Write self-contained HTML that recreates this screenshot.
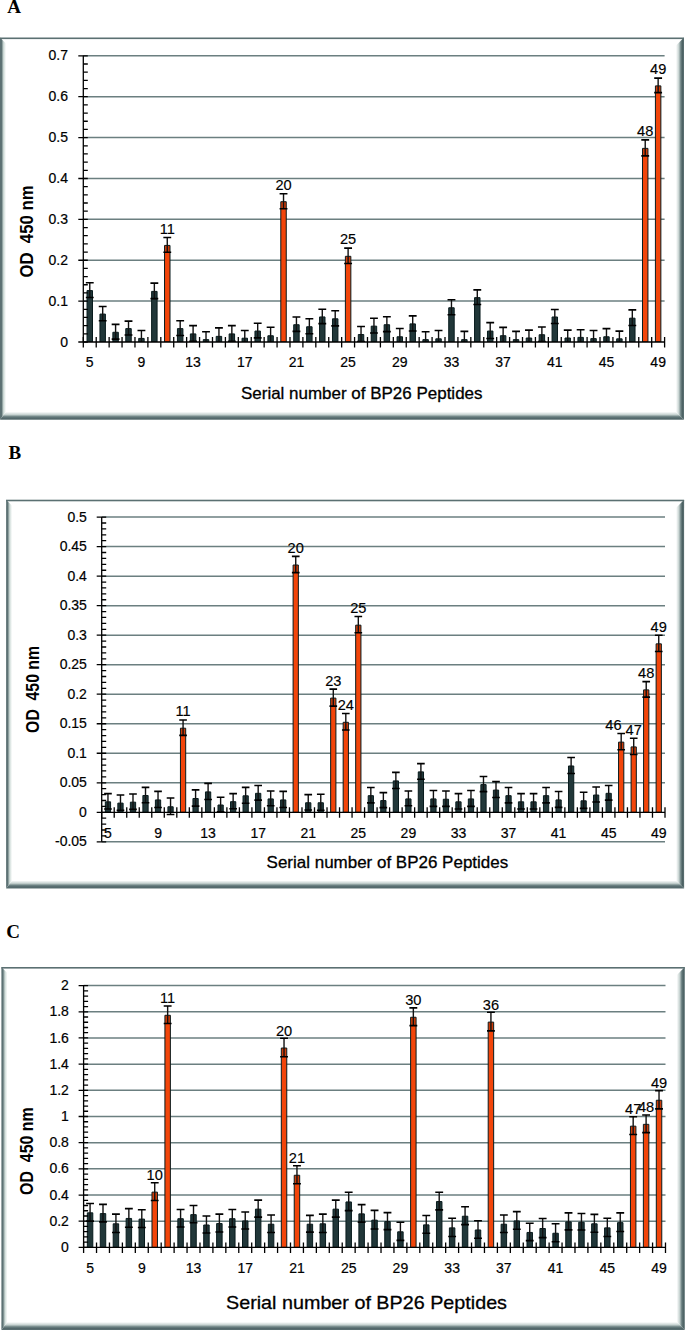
<!DOCTYPE html>
<html><head><meta charset="utf-8"><title>BP26 peptides</title>
<style>html,body{margin:0;padding:0;background:#fff;}svg{display:block;}</style>
</head><body>
<svg width="685" height="1330" viewBox="0 0 685 1330" font-family="'Liberation Sans', sans-serif" stroke-linejoin="round">
<rect width="685" height="1330" fill="#fff"/>

<defs><linearGradient id="gl0" gradientUnits="userSpaceOnUse" x1="0" x2="6" y1="0" y2="0"><stop offset="0" stop-color="#5b7072"/><stop offset="0.25" stop-color="#5e7375"/><stop offset="0.6" stop-color="#cfdcd8"/><stop offset="1" stop-color="#ffffff"/></linearGradient><linearGradient id="gr0" gradientUnits="userSpaceOnUse" x1="676" x2="684" y1="0" y2="0"><stop offset="0" stop-color="#ffffff"/><stop offset="0.35" stop-color="#c7d3d1"/><stop offset="0.6" stop-color="#6e8384"/><stop offset="0.8" stop-color="#4c6163"/><stop offset="1" stop-color="#5b7072"/></linearGradient><linearGradient id="gb0" gradientUnits="userSpaceOnUse" x1="0" x2="0" y1="411.8" y2="419.8"><stop offset="0" stop-color="#ffffff"/><stop offset="0.35" stop-color="#c7d3d1"/><stop offset="0.6" stop-color="#6e8384"/><stop offset="0.8" stop-color="#52676a"/><stop offset="1" stop-color="#5b7072"/></linearGradient><linearGradient id="gl1" gradientUnits="userSpaceOnUse" x1="6.1" x2="12.1" y1="0" y2="0"><stop offset="0" stop-color="#5b7072"/><stop offset="0.25" stop-color="#5e7375"/><stop offset="0.6" stop-color="#cfdcd8"/><stop offset="1" stop-color="#ffffff"/></linearGradient><linearGradient id="gr1" gradientUnits="userSpaceOnUse" x1="676.1" x2="684.1" y1="0" y2="0"><stop offset="0" stop-color="#ffffff"/><stop offset="0.35" stop-color="#c7d3d1"/><stop offset="0.6" stop-color="#6e8384"/><stop offset="0.8" stop-color="#4c6163"/><stop offset="1" stop-color="#5b7072"/></linearGradient><linearGradient id="gb1" gradientUnits="userSpaceOnUse" x1="0" x2="0" y1="880.5" y2="888.5"><stop offset="0" stop-color="#ffffff"/><stop offset="0.35" stop-color="#c7d3d1"/><stop offset="0.6" stop-color="#6e8384"/><stop offset="0.8" stop-color="#52676a"/><stop offset="1" stop-color="#5b7072"/></linearGradient><linearGradient id="gl2" gradientUnits="userSpaceOnUse" x1="1.4" x2="7.4" y1="0" y2="0"><stop offset="0" stop-color="#5b7072"/><stop offset="0.25" stop-color="#5e7375"/><stop offset="0.6" stop-color="#cfdcd8"/><stop offset="1" stop-color="#ffffff"/></linearGradient><linearGradient id="gr2" gradientUnits="userSpaceOnUse" x1="676.8" x2="684.8" y1="0" y2="0"><stop offset="0" stop-color="#ffffff"/><stop offset="0.35" stop-color="#c7d3d1"/><stop offset="0.6" stop-color="#6e8384"/><stop offset="0.8" stop-color="#4c6163"/><stop offset="1" stop-color="#5b7072"/></linearGradient><linearGradient id="gb2" gradientUnits="userSpaceOnUse" x1="0" x2="0" y1="1322" y2="1330"><stop offset="0" stop-color="#ffffff"/><stop offset="0.35" stop-color="#c7d3d1"/><stop offset="0.6" stop-color="#6e8384"/><stop offset="0.8" stop-color="#52676a"/><stop offset="1" stop-color="#5b7072"/></linearGradient></defs>
<polygon points="0,37.5 6,43.5 6,411.8 0,419.8" fill="url(#gl0)"/>
<polygon points="0,419.8 6,411.8 676,411.8 684,419.8" fill="url(#gb0)"/>
<polygon points="684,37.5 684,419.8 676,411.8 676,45.5" fill="url(#gr0)"/>
<rect x="0" y="37.5" width="684" height="1.6" fill="#5b7072"/>
<line x1="83.3" x2="664.6" y1="301.12" y2="301.12" stroke="#6b7f80" stroke-width="1.5"/>
<line x1="83.3" x2="664.6" y1="260.24" y2="260.24" stroke="#6b7f80" stroke-width="1.5"/>
<line x1="83.3" x2="664.6" y1="219.36" y2="219.36" stroke="#6b7f80" stroke-width="1.5"/>
<line x1="83.3" x2="664.6" y1="178.48" y2="178.48" stroke="#6b7f80" stroke-width="1.5"/>
<line x1="83.3" x2="664.6" y1="137.6" y2="137.6" stroke="#6b7f80" stroke-width="1.5"/>
<line x1="83.3" x2="664.6" y1="96.72" y2="96.72" stroke="#6b7f80" stroke-width="1.5"/>
<line x1="83.3" x2="664.6" y1="55.84" y2="55.84" stroke="#6b7f80" stroke-width="1.5"/>
<clipPath id="clip140408049874496"><rect x="83.3" y="25.84" width="581.3" height="316.16"/></clipPath>
<g clip-path="url(#clip140408049874496)"><rect x="87.03" y="290.58" width="5.46" height="51.42" fill="#213739" stroke="#081b1d" stroke-width="1"/><rect x="99.95" y="314.09" width="5.46" height="27.91" fill="#213739" stroke="#081b1d" stroke-width="1"/><rect x="112.87" y="332.28" width="5.46" height="9.72" fill="#213739" stroke="#081b1d" stroke-width="1"/><rect x="125.78" y="328.6" width="5.46" height="13.4" fill="#213739" stroke="#081b1d" stroke-width="1"/><rect x="138.7" y="338.41" width="5.46" height="3.59" fill="#213739" stroke="#081b1d" stroke-width="1"/><rect x="151.62" y="291.4" width="5.46" height="50.6" fill="#213739" stroke="#081b1d" stroke-width="1"/><rect x="164.54" y="245.41" width="5.46" height="96.59" fill="#f2450a" stroke="#081b1d" stroke-width="1"/><rect x="165.04" y="245.91" width="4.46" height="6.4" fill="#000" fill-opacity="0.14"/><rect x="177.45" y="328.6" width="5.46" height="13.4" fill="#213739" stroke="#081b1d" stroke-width="1"/><rect x="190.37" y="333.92" width="5.46" height="8.08" fill="#213739" stroke="#081b1d" stroke-width="1"/><rect x="203.29" y="339.64" width="5.46" height="2.36" fill="#213739" stroke="#081b1d" stroke-width="1"/><rect x="216.21" y="336.37" width="5.46" height="5.63" fill="#213739" stroke="#081b1d" stroke-width="1"/><rect x="229.13" y="333.92" width="5.46" height="8.08" fill="#213739" stroke="#081b1d" stroke-width="1"/><rect x="242.04" y="338.21" width="5.46" height="3.79" fill="#213739" stroke="#081b1d" stroke-width="1"/><rect x="254.96" y="331.05" width="5.46" height="10.95" fill="#213739" stroke="#081b1d" stroke-width="1"/><rect x="267.88" y="335.75" width="5.46" height="6.25" fill="#213739" stroke="#081b1d" stroke-width="1"/><rect x="280.8" y="201.71" width="5.46" height="140.29" fill="#f2450a" stroke="#081b1d" stroke-width="1"/><rect x="281.3" y="202.21" width="4.46" height="6.52" fill="#000" fill-opacity="0.14"/><rect x="293.71" y="324.72" width="5.46" height="17.28" fill="#213739" stroke="#081b1d" stroke-width="1"/><rect x="306.63" y="326.76" width="5.46" height="15.24" fill="#213739" stroke="#081b1d" stroke-width="1"/><rect x="319.55" y="316.95" width="5.46" height="25.05" fill="#213739" stroke="#081b1d" stroke-width="1"/><rect x="332.47" y="318.79" width="5.46" height="23.21" fill="#213739" stroke="#081b1d" stroke-width="1"/><rect x="345.39" y="256.32" width="5.46" height="85.68" fill="#f2450a" stroke="#081b1d" stroke-width="1"/><rect x="345.89" y="256.82" width="4.46" height="6.69" fill="#000" fill-opacity="0.14"/><rect x="358.3" y="334.53" width="5.46" height="7.47" fill="#213739" stroke="#081b1d" stroke-width="1"/><rect x="371.22" y="326.15" width="5.46" height="15.85" fill="#213739" stroke="#081b1d" stroke-width="1"/><rect x="384.14" y="324.72" width="5.46" height="17.28" fill="#213739" stroke="#081b1d" stroke-width="1"/><rect x="397.06" y="336.78" width="5.46" height="5.22" fill="#213739" stroke="#081b1d" stroke-width="1"/><rect x="409.97" y="323.9" width="5.46" height="18.1" fill="#213739" stroke="#081b1d" stroke-width="1"/><rect x="422.89" y="339.64" width="5.46" height="2.36" fill="#213739" stroke="#081b1d" stroke-width="1"/><rect x="435.81" y="338.82" width="5.46" height="3.18" fill="#213739" stroke="#081b1d" stroke-width="1"/><rect x="448.73" y="307.75" width="5.46" height="34.25" fill="#213739" stroke="#081b1d" stroke-width="1"/><rect x="461.65" y="339.64" width="5.46" height="2.36" fill="#213739" stroke="#081b1d" stroke-width="1"/><rect x="474.56" y="297.65" width="5.46" height="44.35" fill="#213739" stroke="#081b1d" stroke-width="1"/><rect x="487.48" y="331.05" width="5.46" height="10.95" fill="#213739" stroke="#081b1d" stroke-width="1"/><rect x="500.4" y="335.71" width="5.46" height="6.29" fill="#213739" stroke="#081b1d" stroke-width="1"/><rect x="513.32" y="339.64" width="5.46" height="2.36" fill="#213739" stroke="#081b1d" stroke-width="1"/><rect x="526.23" y="338" width="5.46" height="4" fill="#213739" stroke="#081b1d" stroke-width="1"/><rect x="539.15" y="334.73" width="5.46" height="7.27" fill="#213739" stroke="#081b1d" stroke-width="1"/><rect x="552.07" y="316.99" width="5.46" height="25.01" fill="#213739" stroke="#081b1d" stroke-width="1"/><rect x="564.99" y="338" width="5.46" height="4" fill="#213739" stroke="#081b1d" stroke-width="1"/><rect x="577.91" y="337.39" width="5.46" height="4.61" fill="#213739" stroke="#081b1d" stroke-width="1"/><rect x="590.82" y="338.62" width="5.46" height="3.38" fill="#213739" stroke="#081b1d" stroke-width="1"/><rect x="603.74" y="336.78" width="5.46" height="5.22" fill="#213739" stroke="#081b1d" stroke-width="1"/><rect x="616.66" y="338.82" width="5.46" height="3.18" fill="#213739" stroke="#081b1d" stroke-width="1"/><rect x="629.58" y="318.18" width="5.46" height="23.82" fill="#213739" stroke="#081b1d" stroke-width="1"/><rect x="642.49" y="148.36" width="5.46" height="193.64" fill="#f2450a" stroke="#081b1d" stroke-width="1"/><rect x="642.99" y="148.86" width="4.46" height="7.01" fill="#000" fill-opacity="0.14"/><rect x="655.41" y="85.9" width="5.46" height="256.1" fill="#f2450a" stroke="#081b1d" stroke-width="1"/><rect x="655.91" y="86.4" width="4.46" height="6.28" fill="#000" fill-opacity="0.14"/></g>
<g clip-path="url(#clip140408049874496)" stroke="#000" fill="none"><path d="M89.76,282.72V297.44" stroke-width="1.4" stroke="#111"/><path d="M85.83,282.72H93.69M85.83,297.44H93.69" stroke-width="1.6"/><path d="M102.68,306.43V320.74" stroke-width="1.4" stroke="#111"/><path d="M98.75,306.43H106.61M98.75,320.74H106.61" stroke-width="1.6"/><path d="M115.59,324.42V339.14" stroke-width="1.4" stroke="#111"/><path d="M111.67,324.42H119.52M111.67,339.14H119.52" stroke-width="1.6"/><path d="M128.51,321.15V335.05" stroke-width="1.4" stroke="#111"/><path d="M124.58,321.15H132.44M124.58,335.05H132.44" stroke-width="1.6"/><path d="M141.43,330.55V345.27" stroke-width="1.4" stroke="#111"/><path d="M137.5,330.55H145.36M137.5,345.27H145.36" stroke-width="1.6"/><path d="M154.35,283.13V298.67" stroke-width="1.4" stroke="#111"/><path d="M150.42,283.13H158.28M150.42,298.67H158.28" stroke-width="1.6"/><path d="M167.27,237.51V252.31" stroke-width="1.4" stroke="#111"/><path d="M163.34,237.51H171.2M163.34,252.31H171.2" stroke-width="1.6"/><path d="M180.18,320.74V335.46" stroke-width="1.4" stroke="#111"/><path d="M176.25,320.74H184.11M176.25,335.46H184.11" stroke-width="1.6"/><path d="M193.1,325.65V341.18" stroke-width="1.4" stroke="#111"/><path d="M189.17,325.65H197.03M189.17,341.18H197.03" stroke-width="1.6"/><path d="M206.02,331.78V346.5" stroke-width="1.4" stroke="#111"/><path d="M202.09,331.78H209.95M202.09,346.5H209.95" stroke-width="1.6"/><path d="M218.94,327.9V343.84" stroke-width="1.4" stroke="#111"/><path d="M215.01,327.9H222.87M215.01,343.84H222.87" stroke-width="1.6"/><path d="M231.85,325.65V341.18" stroke-width="1.4" stroke="#111"/><path d="M227.93,325.65H235.78M227.93,341.18H235.78" stroke-width="1.6"/><path d="M244.77,330.55V344.86" stroke-width="1.4" stroke="#111"/><path d="M240.84,330.55H248.7M240.84,344.86H248.7" stroke-width="1.6"/><path d="M257.69,323.2V337.91" stroke-width="1.4" stroke="#111"/><path d="M253.76,323.2H261.62M253.76,337.91H261.62" stroke-width="1.6"/><path d="M270.61,327.28V343.23" stroke-width="1.4" stroke="#111"/><path d="M266.68,327.28H274.54M266.68,343.23H274.54" stroke-width="1.6"/><path d="M283.53,193.69V208.73" stroke-width="1.4" stroke="#111"/><path d="M279.6,193.69H287.46M279.6,208.73H287.46" stroke-width="1.6"/><path d="M296.44,317.06V331.37" stroke-width="1.4" stroke="#111"/><path d="M292.51,317.06H300.37M292.51,331.37H300.37" stroke-width="1.6"/><path d="M309.36,318.7V333.82" stroke-width="1.4" stroke="#111"/><path d="M305.43,318.7H313.29M305.43,333.82H313.29" stroke-width="1.6"/><path d="M322.28,309.3V323.6" stroke-width="1.4" stroke="#111"/><path d="M318.35,309.3H326.21M318.35,323.6H326.21" stroke-width="1.6"/><path d="M335.2,310.69V325.89" stroke-width="1.4" stroke="#111"/><path d="M331.27,310.69H339.13M331.27,325.89H339.13" stroke-width="1.6"/><path d="M348.11,248.14V263.51" stroke-width="1.4" stroke="#111"/><path d="M344.19,248.14H352.04M344.19,263.51H352.04" stroke-width="1.6"/><path d="M361.03,326.47V341.59" stroke-width="1.4" stroke="#111"/><path d="M357.1,326.47H364.96M357.1,341.59H364.96" stroke-width="1.6"/><path d="M373.95,318.29V333.01" stroke-width="1.4" stroke="#111"/><path d="M370.02,318.29H377.88M370.02,333.01H377.88" stroke-width="1.6"/><path d="M386.87,316.78V331.66" stroke-width="1.4" stroke="#111"/><path d="M382.94,316.78H390.8M382.94,331.66H390.8" stroke-width="1.6"/><path d="M399.79,328.51V344.04" stroke-width="1.4" stroke="#111"/><path d="M395.86,328.51H403.72M395.86,344.04H403.72" stroke-width="1.6"/><path d="M412.7,315.84V330.96" stroke-width="1.4" stroke="#111"/><path d="M408.77,315.84H416.63M408.77,330.96H416.63" stroke-width="1.6"/><path d="M425.62,331.78V346.5" stroke-width="1.4" stroke="#111"/><path d="M421.69,331.78H429.55M421.69,346.5H429.55" stroke-width="1.6"/><path d="M438.54,330.55V346.09" stroke-width="1.4" stroke="#111"/><path d="M434.61,330.55H442.47M434.61,346.09H442.47" stroke-width="1.6"/><path d="M451.46,299.69V314.81" stroke-width="1.4" stroke="#111"/><path d="M447.53,299.69H455.39M447.53,314.81H455.39" stroke-width="1.6"/><path d="M464.37,331.37V346.91" stroke-width="1.4" stroke="#111"/><path d="M460.45,331.37H468.3M460.45,346.91H468.3" stroke-width="1.6"/><path d="M477.29,289.88V304.43" stroke-width="1.4" stroke="#111"/><path d="M473.36,289.88H481.22M473.36,304.43H481.22" stroke-width="1.6"/><path d="M490.21,322.58V338.53" stroke-width="1.4" stroke="#111"/><path d="M486.28,322.58H494.14M486.28,338.53H494.14" stroke-width="1.6"/><path d="M503.13,327.41V343.02" stroke-width="1.4" stroke="#111"/><path d="M499.2,327.41H507.06M499.2,343.02H507.06" stroke-width="1.6"/><path d="M516.05,331.37V346.91" stroke-width="1.4" stroke="#111"/><path d="M512.12,331.37H519.98M512.12,346.91H519.98" stroke-width="1.6"/><path d="M528.96,330.14V344.86" stroke-width="1.4" stroke="#111"/><path d="M525.03,330.14H532.89M525.03,344.86H532.89" stroke-width="1.6"/><path d="M541.88,327V341.47" stroke-width="1.4" stroke="#111"/><path d="M537.95,327H545.81M537.95,341.47H545.81" stroke-width="1.6"/><path d="M554.8,309.5V323.48" stroke-width="1.4" stroke="#111"/><path d="M550.87,309.5H558.73M550.87,323.48H558.73" stroke-width="1.6"/><path d="M567.72,330.14V344.86" stroke-width="1.4" stroke="#111"/><path d="M563.79,330.14H571.65M563.79,344.86H571.65" stroke-width="1.6"/><path d="M580.63,329.74V344.04" stroke-width="1.4" stroke="#111"/><path d="M576.71,329.74H584.56M576.71,344.04H584.56" stroke-width="1.6"/><path d="M593.55,330.55V345.68" stroke-width="1.4" stroke="#111"/><path d="M589.62,330.55H597.48M589.62,345.68H597.48" stroke-width="1.6"/><path d="M606.47,328.59V343.96" stroke-width="1.4" stroke="#111"/><path d="M602.54,328.59H610.4M602.54,343.96H610.4" stroke-width="1.6"/><path d="M619.39,331.09V345.56" stroke-width="1.4" stroke="#111"/><path d="M615.46,331.09H623.32M615.46,345.56H623.32" stroke-width="1.6"/><path d="M632.31,309.91V325.44" stroke-width="1.4" stroke="#111"/><path d="M628.38,309.91H636.24M628.38,325.44H636.24" stroke-width="1.6"/><path d="M645.22,139.85V155.87" stroke-width="1.4" stroke="#111"/><path d="M641.29,139.85H649.15M641.29,155.87H649.15" stroke-width="1.6"/><path d="M658.14,78.12V92.67" stroke-width="1.4" stroke="#111"/><path d="M654.21,78.12H662.07M654.21,92.67H662.07" stroke-width="1.6"/></g>
<g fill="#000" stroke="#000" stroke-width="0.15"><text x="167.27" y="233.51" text-anchor="middle" font-size="14.6">11</text><text x="283.53" y="189.81" text-anchor="middle" font-size="14.6">20</text><text x="348.11" y="244.42" text-anchor="middle" font-size="14.6">25</text><text x="645.22" y="136.46" text-anchor="middle" font-size="14.6">48</text><text x="658.14" y="74" text-anchor="middle" font-size="14.6">49</text></g>
<line x1="83.3" x2="83.3" y1="55.84" y2="342" stroke="#000" stroke-width="1.3"/>
<line x1="83.3" x2="664.6" y1="342" y2="342" stroke="#000" stroke-width="1.3"/>
<path d="M78.3,342H87.8M83.3,333.82H87.8M83.3,325.65H87.8M83.3,317.47H87.8M83.3,309.3H87.8M78.3,301.12H87.8M83.3,292.94H87.8M83.3,284.77H87.8M83.3,276.59H87.8M83.3,268.42H87.8M78.3,260.24H87.8M83.3,252.06H87.8M83.3,243.89H87.8M83.3,235.71H87.8M83.3,227.54H87.8M78.3,219.36H87.8M83.3,211.18H87.8M83.3,203.01H87.8M83.3,194.83H87.8M83.3,186.66H87.8M78.3,178.48H87.8M83.3,170.3H87.8M83.3,162.13H87.8M83.3,153.95H87.8M83.3,145.78H87.8M78.3,137.6H87.8M83.3,129.42H87.8M83.3,121.25H87.8M83.3,113.07H87.8M83.3,104.9H87.8M78.3,96.72H87.8M83.3,88.54H87.8M83.3,80.37H87.8M83.3,72.19H87.8M83.3,64.02H87.8M78.3,55.84H87.8M83.3,337V347.5M96.22,337V347.5M109.14,337V347.5M122.05,337V347.5M134.97,337V347.5M147.89,337V347.5M160.81,337V347.5M173.72,337V347.5M186.64,337V347.5M199.56,337V347.5M212.48,337V347.5M225.4,337V347.5M238.31,337V347.5M251.23,337V347.5M264.15,337V347.5M277.07,337V347.5M289.98,337V347.5M302.9,337V347.5M315.82,337V347.5M328.74,337V347.5M341.66,337V347.5M354.57,337V347.5M367.49,337V347.5M380.41,337V347.5M393.33,337V347.5M406.24,337V347.5M419.16,337V347.5M432.08,337V347.5M445,337V347.5M457.92,337V347.5M470.83,337V347.5M483.75,337V347.5M496.67,337V347.5M509.59,337V347.5M522.5,337V347.5M535.42,337V347.5M548.34,337V347.5M561.26,337V347.5M574.18,337V347.5M587.09,337V347.5M600.01,337V347.5M612.93,337V347.5M625.85,337V347.5M638.76,337V347.5M651.68,337V347.5M664.6,337V347.5" stroke="#000" stroke-width="1.3" fill="none"/>
<g font-size="14" fill="#000" stroke="#000" stroke-width="0.2"><text x="68" y="346.6" text-anchor="end">0</text><text x="68" y="305.72" text-anchor="end">0.1</text><text x="68" y="264.84" text-anchor="end">0.2</text><text x="68" y="223.96" text-anchor="end">0.3</text><text x="68" y="183.08" text-anchor="end">0.4</text><text x="68" y="142.2" text-anchor="end">0.5</text><text x="68" y="101.32" text-anchor="end">0.6</text><text x="68" y="60.44" text-anchor="end">0.7</text></g>
<g font-size="14" fill="#000" stroke="#000" stroke-width="0.2"><text x="89.76" y="366.9" text-anchor="middle">5</text><text x="141.43" y="366.9" text-anchor="middle">9</text><text x="193.1" y="366.9" text-anchor="middle">13</text><text x="244.77" y="366.9" text-anchor="middle">17</text><text x="296.44" y="366.9" text-anchor="middle">21</text><text x="348.11" y="366.9" text-anchor="middle">25</text><text x="399.79" y="366.9" text-anchor="middle">29</text><text x="451.46" y="366.9" text-anchor="middle">33</text><text x="503.13" y="366.9" text-anchor="middle">37</text><text x="554.8" y="366.9" text-anchor="middle">41</text><text x="606.47" y="366.9" text-anchor="middle">45</text><text x="658.14" y="366.9" text-anchor="middle">49</text></g>
<text x="241" y="399.1" font-size="16.5" stroke="#000" stroke-width="0.3" textLength="241.5" lengthAdjust="spacingAndGlyphs">Serial number of BP26 Peptides</text>
<text transform="translate(33,277) rotate(-90)" x="-0.6" y="0" font-size="18" font-weight="bold" textLength="92.2" lengthAdjust="spacingAndGlyphs">OD&#160;&#160;450 nm</text>
<polygon points="6.1,499.7 12.1,505.7 12.1,880.5 6.1,888.5" fill="url(#gl1)"/>
<polygon points="6.1,888.5 12.1,880.5 676.1,880.5 684.1,888.5" fill="url(#gb1)"/>
<polygon points="684.1,499.7 684.1,888.5 676.1,880.5 676.1,507.7" fill="url(#gr1)"/>
<rect x="6.1" y="499.7" width="678" height="1.6" fill="#5b7072"/>
<line x1="101.7" x2="665" y1="841.82" y2="841.82" stroke="#6b7f80" stroke-width="1.5"/>
<line x1="101.7" x2="665" y1="782.78" y2="782.78" stroke="#6b7f80" stroke-width="1.5"/>
<line x1="101.7" x2="665" y1="753.26" y2="753.26" stroke="#6b7f80" stroke-width="1.5"/>
<line x1="101.7" x2="665" y1="723.74" y2="723.74" stroke="#6b7f80" stroke-width="1.5"/>
<line x1="101.7" x2="665" y1="694.22" y2="694.22" stroke="#6b7f80" stroke-width="1.5"/>
<line x1="101.7" x2="665" y1="664.7" y2="664.7" stroke="#6b7f80" stroke-width="1.5"/>
<line x1="101.7" x2="665" y1="635.18" y2="635.18" stroke="#6b7f80" stroke-width="1.5"/>
<line x1="101.7" x2="665" y1="605.66" y2="605.66" stroke="#6b7f80" stroke-width="1.5"/>
<line x1="101.7" x2="665" y1="576.14" y2="576.14" stroke="#6b7f80" stroke-width="1.5"/>
<line x1="101.7" x2="665" y1="546.62" y2="546.62" stroke="#6b7f80" stroke-width="1.5"/>
<line x1="101.7" x2="665" y1="517.1" y2="517.1" stroke="#6b7f80" stroke-width="1.5"/>
<clipPath id="clip140408049814656"><rect x="101.7" y="487.1" width="563.3" height="354.72"/></clipPath>
<g clip-path="url(#clip140408049814656)"><rect x="105.33" y="801.82" width="5.26" height="10.48" fill="#213739" stroke="#081b1d" stroke-width="1"/><rect x="117.85" y="803.12" width="5.26" height="9.18" fill="#213739" stroke="#081b1d" stroke-width="1"/><rect x="130.37" y="802.17" width="5.26" height="10.13" fill="#213739" stroke="#081b1d" stroke-width="1"/><rect x="142.88" y="795.5" width="5.26" height="16.8" fill="#213739" stroke="#081b1d" stroke-width="1"/><rect x="155.4" y="799.93" width="5.26" height="12.37" fill="#213739" stroke="#081b1d" stroke-width="1"/><rect x="167.92" y="806.78" width="5.26" height="5.52" fill="#213739" stroke="#081b1d" stroke-width="1"/><rect x="180.44" y="728.2" width="5.26" height="84.1" fill="#f2450a" stroke="#081b1d" stroke-width="1"/><rect x="180.94" y="728.7" width="4.26" height="6.68" fill="#000" fill-opacity="0.14"/><rect x="192.95" y="798.51" width="5.26" height="13.79" fill="#213739" stroke="#081b1d" stroke-width="1"/><rect x="205.47" y="791.9" width="5.26" height="20.4" fill="#213739" stroke="#081b1d" stroke-width="1"/><rect x="217.99" y="805.01" width="5.26" height="7.29" fill="#213739" stroke="#081b1d" stroke-width="1"/><rect x="230.51" y="801.7" width="5.26" height="10.6" fill="#213739" stroke="#081b1d" stroke-width="1"/><rect x="243.03" y="795.8" width="5.26" height="16.5" fill="#213739" stroke="#081b1d" stroke-width="1"/><rect x="255.54" y="793.32" width="5.26" height="18.98" fill="#213739" stroke="#081b1d" stroke-width="1"/><rect x="268.06" y="798.93" width="5.26" height="13.37" fill="#213739" stroke="#081b1d" stroke-width="1"/><rect x="280.58" y="799.93" width="5.26" height="12.37" fill="#213739" stroke="#081b1d" stroke-width="1"/><rect x="293.1" y="565.01" width="5.26" height="247.29" fill="#f2450a" stroke="#081b1d" stroke-width="1"/><rect x="293.6" y="565.51" width="4.26" height="7.09" fill="#000" fill-opacity="0.14"/><rect x="305.61" y="802.76" width="5.26" height="9.54" fill="#213739" stroke="#081b1d" stroke-width="1"/><rect x="318.13" y="802.76" width="5.26" height="9.54" fill="#213739" stroke="#081b1d" stroke-width="1"/><rect x="330.65" y="698.09" width="5.26" height="114.21" fill="#f2450a" stroke="#081b1d" stroke-width="1"/><rect x="331.15" y="698.59" width="4.26" height="7.5" fill="#000" fill-opacity="0.14"/><rect x="343.17" y="722.29" width="5.26" height="90.01" fill="#f2450a" stroke="#081b1d" stroke-width="1"/><rect x="343.67" y="722.79" width="4.26" height="7.27" fill="#000" fill-opacity="0.14"/><rect x="355.68" y="625.17" width="5.26" height="187.13" fill="#f2450a" stroke="#081b1d" stroke-width="1"/><rect x="356.18" y="625.67" width="4.26" height="7.15" fill="#000" fill-opacity="0.14"/><rect x="368.2" y="795.68" width="5.26" height="16.62" fill="#213739" stroke="#081b1d" stroke-width="1"/><rect x="380.72" y="800.58" width="5.26" height="11.72" fill="#213739" stroke="#081b1d" stroke-width="1"/><rect x="393.24" y="780.92" width="5.26" height="31.38" fill="#213739" stroke="#081b1d" stroke-width="1"/><rect x="405.76" y="798.93" width="5.26" height="13.37" fill="#213739" stroke="#081b1d" stroke-width="1"/><rect x="418.27" y="771.89" width="5.26" height="40.41" fill="#213739" stroke="#081b1d" stroke-width="1"/><rect x="430.79" y="798.93" width="5.26" height="13.37" fill="#213739" stroke="#081b1d" stroke-width="1"/><rect x="443.31" y="799.22" width="5.26" height="13.08" fill="#213739" stroke="#081b1d" stroke-width="1"/><rect x="455.83" y="801.82" width="5.26" height="10.48" fill="#213739" stroke="#081b1d" stroke-width="1"/><rect x="468.34" y="798.93" width="5.26" height="13.37" fill="#213739" stroke="#081b1d" stroke-width="1"/><rect x="480.86" y="784.58" width="5.26" height="27.72" fill="#213739" stroke="#081b1d" stroke-width="1"/><rect x="493.38" y="790.07" width="5.26" height="22.23" fill="#213739" stroke="#081b1d" stroke-width="1"/><rect x="505.9" y="795.68" width="5.26" height="16.62" fill="#213739" stroke="#081b1d" stroke-width="1"/><rect x="518.42" y="801.82" width="5.26" height="10.48" fill="#213739" stroke="#081b1d" stroke-width="1"/><rect x="530.93" y="801.82" width="5.26" height="10.48" fill="#213739" stroke="#081b1d" stroke-width="1"/><rect x="543.45" y="795.68" width="5.26" height="16.62" fill="#213739" stroke="#081b1d" stroke-width="1"/><rect x="555.97" y="799.93" width="5.26" height="12.37" fill="#213739" stroke="#081b1d" stroke-width="1"/><rect x="568.49" y="765.98" width="5.26" height="46.32" fill="#213739" stroke="#081b1d" stroke-width="1"/><rect x="581" y="800.81" width="5.26" height="11.49" fill="#213739" stroke="#081b1d" stroke-width="1"/><rect x="593.52" y="795.03" width="5.26" height="17.27" fill="#213739" stroke="#081b1d" stroke-width="1"/><rect x="606.04" y="793.32" width="5.26" height="18.98" fill="#213739" stroke="#081b1d" stroke-width="1"/><rect x="618.56" y="742.13" width="5.26" height="70.17" fill="#f2450a" stroke="#081b1d" stroke-width="1"/><rect x="619.06" y="742.63" width="4.26" height="7.15" fill="#000" fill-opacity="0.14"/><rect x="631.08" y="746.91" width="5.26" height="65.39" fill="#f2450a" stroke="#081b1d" stroke-width="1"/><rect x="631.58" y="747.41" width="4.26" height="7.09" fill="#000" fill-opacity="0.14"/><rect x="643.59" y="689.88" width="5.26" height="122.42" fill="#f2450a" stroke="#081b1d" stroke-width="1"/><rect x="644.09" y="690.38" width="4.26" height="6.73" fill="#000" fill-opacity="0.14"/><rect x="656.11" y="643.83" width="5.26" height="168.47" fill="#f2450a" stroke="#081b1d" stroke-width="1"/><rect x="656.61" y="644.33" width="4.26" height="7.15" fill="#000" fill-opacity="0.14"/></g>
<g clip-path="url(#clip140408049814656)" stroke="#000" fill="none"><path d="M107.96,793.58V809.05" stroke-width="1.4" stroke="#111"/><path d="M104.13,793.58H111.79M104.13,809.05H111.79" stroke-width="1.6"/><path d="M120.48,795V810.23" stroke-width="1.4" stroke="#111"/><path d="M116.65,795H124.31M116.65,810.23H124.31" stroke-width="1.6"/><path d="M132.99,794V809.35" stroke-width="1.4" stroke="#111"/><path d="M129.16,794H136.82M129.16,809.35H136.82" stroke-width="1.6"/><path d="M145.51,787.33V802.68" stroke-width="1.4" stroke="#111"/><path d="M141.68,787.33H149.34M141.68,802.68H149.34" stroke-width="1.6"/><path d="M158.03,791.4V807.46" stroke-width="1.4" stroke="#111"/><path d="M154.2,791.4H161.86M154.2,807.46H161.86" stroke-width="1.6"/><path d="M170.55,798.01V814.54" stroke-width="1.4" stroke="#111"/><path d="M166.72,798.01H174.38M166.72,814.54H174.38" stroke-width="1.6"/><path d="M183.07,720.02V735.37" stroke-width="1.4" stroke="#111"/><path d="M179.24,720.02H186.89M179.24,735.37H186.89" stroke-width="1.6"/><path d="M195.58,789.86V806.16" stroke-width="1.4" stroke="#111"/><path d="M191.75,789.86H199.41M191.75,806.16H199.41" stroke-width="1.6"/><path d="M208.1,783.37V799.43" stroke-width="1.4" stroke="#111"/><path d="M204.27,783.37H211.93M204.27,799.43H211.93" stroke-width="1.6"/><path d="M220.62,797.19V811.83" stroke-width="1.4" stroke="#111"/><path d="M216.79,797.19H224.45M216.79,811.83H224.45" stroke-width="1.6"/><path d="M233.14,793.58V808.82" stroke-width="1.4" stroke="#111"/><path d="M229.31,793.58H236.97M229.31,808.82H236.97" stroke-width="1.6"/><path d="M245.65,787.33V803.27" stroke-width="1.4" stroke="#111"/><path d="M241.82,787.33H249.48M241.82,803.27H249.48" stroke-width="1.6"/><path d="M258.17,785.5V800.14" stroke-width="1.4" stroke="#111"/><path d="M254.34,785.5H262M254.34,800.14H262" stroke-width="1.6"/><path d="M270.69,791.05V805.81" stroke-width="1.4" stroke="#111"/><path d="M266.86,791.05H274.52M266.86,805.81H274.52" stroke-width="1.6"/><path d="M283.21,791.4V807.46" stroke-width="1.4" stroke="#111"/><path d="M279.38,791.4H287.04M279.38,807.46H287.04" stroke-width="1.6"/><path d="M295.73,556.42V572.6" stroke-width="1.4" stroke="#111"/><path d="M291.9,556.42H299.56M291.9,572.6H299.56" stroke-width="1.6"/><path d="M308.24,794.59V809.94" stroke-width="1.4" stroke="#111"/><path d="M304.41,794.59H312.07M304.41,809.94H312.07" stroke-width="1.6"/><path d="M320.76,794.29V810.23" stroke-width="1.4" stroke="#111"/><path d="M316.93,794.29H324.59M316.93,810.23H324.59" stroke-width="1.6"/><path d="M333.28,689.08V706.09" stroke-width="1.4" stroke="#111"/><path d="M329.45,689.08H337.11M329.45,706.09H337.11" stroke-width="1.6"/><path d="M345.8,713.53V730.06" stroke-width="1.4" stroke="#111"/><path d="M341.97,713.53H349.63M341.97,730.06H349.63" stroke-width="1.6"/><path d="M358.31,616.52V632.82" stroke-width="1.4" stroke="#111"/><path d="M354.48,616.52H362.14M354.48,632.82H362.14" stroke-width="1.6"/><path d="M370.83,787.5V802.85" stroke-width="1.4" stroke="#111"/><path d="M367,787.5H374.66M367,802.85H374.66" stroke-width="1.6"/><path d="M383.35,792.58V807.58" stroke-width="1.4" stroke="#111"/><path d="M379.52,792.58H387.18M379.52,807.58H387.18" stroke-width="1.6"/><path d="M395.87,772.39V788.45" stroke-width="1.4" stroke="#111"/><path d="M392.04,772.39H399.7M392.04,788.45H399.7" stroke-width="1.6"/><path d="M408.39,791.05V805.81" stroke-width="1.4" stroke="#111"/><path d="M404.56,791.05H412.21M404.56,805.81H412.21" stroke-width="1.6"/><path d="M420.9,763.59V779.18" stroke-width="1.4" stroke="#111"/><path d="M417.07,763.59H424.73M417.07,779.18H424.73" stroke-width="1.6"/><path d="M433.42,790.46V806.4" stroke-width="1.4" stroke="#111"/><path d="M429.59,790.46H437.25M429.59,806.4H437.25" stroke-width="1.6"/><path d="M445.94,791.05V806.4" stroke-width="1.4" stroke="#111"/><path d="M442.11,791.05H449.77M442.11,806.4H449.77" stroke-width="1.6"/><path d="M458.46,793.58V809.05" stroke-width="1.4" stroke="#111"/><path d="M454.63,793.58H462.29M454.63,809.05H462.29" stroke-width="1.6"/><path d="M470.97,790.46V806.4" stroke-width="1.4" stroke="#111"/><path d="M467.14,790.46H474.8M467.14,806.4H474.8" stroke-width="1.6"/><path d="M483.49,776.52V791.64" stroke-width="1.4" stroke="#111"/><path d="M479.66,776.52H487.32M479.66,791.64H487.32" stroke-width="1.6"/><path d="M496.01,781.6V797.54" stroke-width="1.4" stroke="#111"/><path d="M492.18,781.6H499.84M492.18,797.54H499.84" stroke-width="1.6"/><path d="M508.53,787.5V802.85" stroke-width="1.4" stroke="#111"/><path d="M504.7,787.5H512.36M504.7,802.85H512.36" stroke-width="1.6"/><path d="M521.05,793.58V809.05" stroke-width="1.4" stroke="#111"/><path d="M517.22,793.58H524.88M517.22,809.05H524.88" stroke-width="1.6"/><path d="M533.56,793.58V809.05" stroke-width="1.4" stroke="#111"/><path d="M529.73,793.58H537.39M529.73,809.05H537.39" stroke-width="1.6"/><path d="M546.08,787.5V802.85" stroke-width="1.4" stroke="#111"/><path d="M542.25,787.5H549.91M542.25,802.85H549.91" stroke-width="1.6"/><path d="M558.6,791.52V807.34" stroke-width="1.4" stroke="#111"/><path d="M554.77,791.52H562.43M554.77,807.34H562.43" stroke-width="1.6"/><path d="M571.12,757.51V773.45" stroke-width="1.4" stroke="#111"/><path d="M567.29,757.51H574.95M567.29,773.45H574.95" stroke-width="1.6"/><path d="M583.63,792.29V808.34" stroke-width="1.4" stroke="#111"/><path d="M579.8,792.29H587.46M579.8,808.34H587.46" stroke-width="1.6"/><path d="M596.15,787.03V802.03" stroke-width="1.4" stroke="#111"/><path d="M592.32,787.03H599.98M592.32,802.03H599.98" stroke-width="1.6"/><path d="M608.67,785.5V800.14" stroke-width="1.4" stroke="#111"/><path d="M604.84,785.5H612.5M604.84,800.14H612.5" stroke-width="1.6"/><path d="M621.19,733.48V749.78" stroke-width="1.4" stroke="#111"/><path d="M617.36,733.48H625.02M617.36,749.78H625.02" stroke-width="1.6"/><path d="M633.71,738.32V754.5" stroke-width="1.4" stroke="#111"/><path d="M629.88,738.32H637.53M629.88,754.5H637.53" stroke-width="1.6"/><path d="M646.22,681.64V697.11" stroke-width="1.4" stroke="#111"/><path d="M642.39,681.64H650.05M642.39,697.11H650.05" stroke-width="1.6"/><path d="M658.74,635.18V651.48" stroke-width="1.4" stroke="#111"/><path d="M654.91,635.18H662.57M654.91,651.48H662.57" stroke-width="1.6"/></g>
<g fill="#000" stroke="#000" stroke-width="0.15"><text x="183.07" y="716.3" text-anchor="middle" font-size="14.6">11</text><text x="295.73" y="553.11" text-anchor="middle" font-size="14.6">20</text><text x="333.28" y="686.19" text-anchor="middle" font-size="14.6">23</text><text x="345.8" y="710.39" text-anchor="middle" font-size="14.6">24</text><text x="358.31" y="613.27" text-anchor="middle" font-size="14.6">25</text><text x="613.39" y="730.23" text-anchor="middle" font-size="14.6">46</text><text x="633.71" y="735.01" text-anchor="middle" font-size="14.6">47</text><text x="646.22" y="677.98" text-anchor="middle" font-size="14.6">48</text><text x="658.74" y="631.93" text-anchor="middle" font-size="14.6">49</text></g>
<line x1="101.7" x2="101.7" y1="517.1" y2="841.82" stroke="#000" stroke-width="1.3"/>
<line x1="101.7" x2="665" y1="812.3" y2="812.3" stroke="#000" stroke-width="1.3"/>
<path d="M96.7,841.82H106.2M101.7,835.92H106.2M101.7,830.01H106.2M101.7,824.11H106.2M101.7,818.2H106.2M96.7,812.3H106.2M101.7,806.4H106.2M101.7,800.49H106.2M101.7,794.59H106.2M101.7,788.68H106.2M96.7,782.78H106.2M101.7,776.88H106.2M101.7,770.97H106.2M101.7,765.07H106.2M101.7,759.16H106.2M96.7,753.26H106.2M101.7,747.36H106.2M101.7,741.45H106.2M101.7,735.55H106.2M101.7,729.64H106.2M96.7,723.74H106.2M101.7,717.84H106.2M101.7,711.93H106.2M101.7,706.03H106.2M101.7,700.12H106.2M96.7,694.22H106.2M101.7,688.32H106.2M101.7,682.41H106.2M101.7,676.51H106.2M101.7,670.6H106.2M96.7,664.7H106.2M101.7,658.8H106.2M101.7,652.89H106.2M101.7,646.99H106.2M101.7,641.08H106.2M96.7,635.18H106.2M101.7,629.28H106.2M101.7,623.37H106.2M101.7,617.47H106.2M101.7,611.56H106.2M96.7,605.66H106.2M101.7,599.76H106.2M101.7,593.85H106.2M101.7,587.95H106.2M101.7,582.04H106.2M96.7,576.14H106.2M101.7,570.24H106.2M101.7,564.33H106.2M101.7,558.43H106.2M101.7,552.52H106.2M96.7,546.62H106.2M101.7,540.72H106.2M101.7,534.81H106.2M101.7,528.91H106.2M101.7,523H106.2M96.7,517.1H106.2M101.7,807.3V817.8M114.22,807.3V817.8M126.74,807.3V817.8M139.25,807.3V817.8M151.77,807.3V817.8M164.29,807.3V817.8M176.81,807.3V817.8M189.32,807.3V817.8M201.84,807.3V817.8M214.36,807.3V817.8M226.88,807.3V817.8M239.4,807.3V817.8M251.91,807.3V817.8M264.43,807.3V817.8M276.95,807.3V817.8M289.47,807.3V817.8M301.98,807.3V817.8M314.5,807.3V817.8M327.02,807.3V817.8M339.54,807.3V817.8M352.06,807.3V817.8M364.57,807.3V817.8M377.09,807.3V817.8M389.61,807.3V817.8M402.13,807.3V817.8M414.64,807.3V817.8M427.16,807.3V817.8M439.68,807.3V817.8M452.2,807.3V817.8M464.72,807.3V817.8M477.23,807.3V817.8M489.75,807.3V817.8M502.27,807.3V817.8M514.79,807.3V817.8M527.3,807.3V817.8M539.82,807.3V817.8M552.34,807.3V817.8M564.86,807.3V817.8M577.38,807.3V817.8M589.89,807.3V817.8M602.41,807.3V817.8M614.93,807.3V817.8M627.45,807.3V817.8M639.96,807.3V817.8M652.48,807.3V817.8M665,807.3V817.8" stroke="#000" stroke-width="1.3" fill="none"/>
<g font-size="14" fill="#000" stroke="#000" stroke-width="0.2"><text x="86.9" y="846.42" text-anchor="end">-0.05</text><text x="86.9" y="816.9" text-anchor="end">0</text><text x="86.9" y="787.38" text-anchor="end">0.05</text><text x="86.9" y="757.86" text-anchor="end">0.1</text><text x="86.9" y="728.34" text-anchor="end">0.15</text><text x="86.9" y="698.82" text-anchor="end">0.2</text><text x="86.9" y="669.3" text-anchor="end">0.25</text><text x="86.9" y="639.78" text-anchor="end">0.3</text><text x="86.9" y="610.26" text-anchor="end">0.35</text><text x="86.9" y="580.74" text-anchor="end">0.4</text><text x="86.9" y="551.22" text-anchor="end">0.45</text><text x="86.9" y="521.7" text-anchor="end">0.5</text></g>
<g font-size="14" fill="#000" stroke="#000" stroke-width="0.2"><text x="107.96" y="837.9" text-anchor="middle">5</text><text x="158.03" y="837.9" text-anchor="middle">9</text><text x="208.1" y="837.9" text-anchor="middle">13</text><text x="258.17" y="837.9" text-anchor="middle">17</text><text x="308.24" y="837.9" text-anchor="middle">21</text><text x="358.31" y="837.9" text-anchor="middle">25</text><text x="408.39" y="837.9" text-anchor="middle">29</text><text x="458.46" y="837.9" text-anchor="middle">33</text><text x="508.53" y="837.9" text-anchor="middle">37</text><text x="558.6" y="837.9" text-anchor="middle">41</text><text x="608.67" y="837.9" text-anchor="middle">45</text><text x="658.74" y="837.9" text-anchor="middle">49</text></g>
<text x="266.6" y="867.8" font-size="16.5" stroke="#000" stroke-width="0.3" textLength="241.6" lengthAdjust="spacingAndGlyphs">Serial number of BP26 Peptides</text>
<text transform="translate(38.8,732.3) rotate(-90)" x="-0.6" y="0" font-size="18" font-weight="bold" textLength="86.9" lengthAdjust="spacingAndGlyphs">OD&#160;&#160;450 nm</text>
<polygon points="1.4,967 7.4,973 7.4,1322 1.4,1330" fill="url(#gl2)"/>
<polygon points="1.4,1330 7.4,1322 676.8,1322 684.8,1330" fill="url(#gb2)"/>
<polygon points="684.8,967 684.8,1330 676.8,1322 676.8,975" fill="url(#gr2)"/>
<rect x="1.4" y="967" width="683.4" height="1.6" fill="#5b7072"/>
<line x1="83.6" x2="665.5" y1="1221.22" y2="1221.22" stroke="#6b7f80" stroke-width="1.5"/>
<line x1="83.6" x2="665.5" y1="1195.04" y2="1195.04" stroke="#6b7f80" stroke-width="1.5"/>
<line x1="83.6" x2="665.5" y1="1168.86" y2="1168.86" stroke="#6b7f80" stroke-width="1.5"/>
<line x1="83.6" x2="665.5" y1="1142.68" y2="1142.68" stroke="#6b7f80" stroke-width="1.5"/>
<line x1="83.6" x2="665.5" y1="1116.5" y2="1116.5" stroke="#6b7f80" stroke-width="1.5"/>
<line x1="83.6" x2="665.5" y1="1090.32" y2="1090.32" stroke="#6b7f80" stroke-width="1.5"/>
<line x1="83.6" x2="665.5" y1="1064.14" y2="1064.14" stroke="#6b7f80" stroke-width="1.5"/>
<line x1="83.6" x2="665.5" y1="1037.96" y2="1037.96" stroke="#6b7f80" stroke-width="1.5"/>
<line x1="83.6" x2="665.5" y1="1011.78" y2="1011.78" stroke="#6b7f80" stroke-width="1.5"/>
<line x1="83.6" x2="665.5" y1="985.6" y2="985.6" stroke="#6b7f80" stroke-width="1.5"/>
<clipPath id="clip140408049774912"><rect x="83.6" y="955.6" width="581.9" height="291.8"/></clipPath>
<g clip-path="url(#clip140408049774912)"><rect x="87.33" y="1212.82" width="5.47" height="34.58" fill="#213739" stroke="#081b1d" stroke-width="1"/><rect x="100.26" y="1213.6" width="5.47" height="33.8" fill="#213739" stroke="#081b1d" stroke-width="1"/><rect x="113.19" y="1223.81" width="5.47" height="23.59" fill="#213739" stroke="#081b1d" stroke-width="1"/><rect x="126.13" y="1218.45" width="5.47" height="28.95" fill="#213739" stroke="#081b1d" stroke-width="1"/><rect x="139.06" y="1219.1" width="5.47" height="28.3" fill="#213739" stroke="#081b1d" stroke-width="1"/><rect x="151.99" y="1192.14" width="5.47" height="55.26" fill="#f2450a" stroke="#081b1d" stroke-width="1"/><rect x="152.49" y="1192.64" width="4.47" height="7.9" fill="#000" fill-opacity="0.14"/><rect x="164.92" y="1015.29" width="5.47" height="232.11" fill="#f2450a" stroke="#081b1d" stroke-width="1"/><rect x="165.42" y="1015.79" width="4.47" height="7.77" fill="#000" fill-opacity="0.14"/><rect x="177.85" y="1218.71" width="5.47" height="28.69" fill="#213739" stroke="#081b1d" stroke-width="1"/><rect x="190.78" y="1214.65" width="5.47" height="32.75" fill="#213739" stroke="#081b1d" stroke-width="1"/><rect x="203.71" y="1224.99" width="5.47" height="22.41" fill="#213739" stroke="#081b1d" stroke-width="1"/><rect x="216.64" y="1223.55" width="5.47" height="23.85" fill="#213739" stroke="#081b1d" stroke-width="1"/><rect x="229.57" y="1218.71" width="5.47" height="28.69" fill="#213739" stroke="#081b1d" stroke-width="1"/><rect x="242.51" y="1220.93" width="5.47" height="26.47" fill="#213739" stroke="#081b1d" stroke-width="1"/><rect x="255.44" y="1209.15" width="5.47" height="38.25" fill="#213739" stroke="#081b1d" stroke-width="1"/><rect x="268.37" y="1224.21" width="5.47" height="23.19" fill="#213739" stroke="#081b1d" stroke-width="1"/><rect x="281.3" y="1048.02" width="5.47" height="199.38" fill="#f2450a" stroke="#081b1d" stroke-width="1"/><rect x="281.8" y="1048.52" width="4.47" height="8.29" fill="#000" fill-opacity="0.14"/><rect x="294.23" y="1175.25" width="5.47" height="72.15" fill="#f2450a" stroke="#081b1d" stroke-width="1"/><rect x="294.73" y="1175.75" width="4.47" height="8.03" fill="#000" fill-opacity="0.14"/><rect x="307.16" y="1224.21" width="5.47" height="23.19" fill="#213739" stroke="#081b1d" stroke-width="1"/><rect x="320.09" y="1223.81" width="5.47" height="23.59" fill="#213739" stroke="#081b1d" stroke-width="1"/><rect x="333.02" y="1209.15" width="5.47" height="38.25" fill="#213739" stroke="#081b1d" stroke-width="1"/><rect x="345.96" y="1201.95" width="5.47" height="45.45" fill="#213739" stroke="#081b1d" stroke-width="1"/><rect x="358.89" y="1213.87" width="5.47" height="33.53" fill="#213739" stroke="#081b1d" stroke-width="1"/><rect x="371.82" y="1220.15" width="5.47" height="27.25" fill="#213739" stroke="#081b1d" stroke-width="1"/><rect x="384.75" y="1221.59" width="5.47" height="25.81" fill="#213739" stroke="#081b1d" stroke-width="1"/><rect x="397.68" y="1231.8" width="5.47" height="15.6" fill="#213739" stroke="#081b1d" stroke-width="1"/><rect x="410.61" y="1017.25" width="5.47" height="230.15" fill="#f2450a" stroke="#081b1d" stroke-width="1"/><rect x="411.11" y="1017.75" width="4.47" height="7.9" fill="#000" fill-opacity="0.14"/><rect x="423.54" y="1224.86" width="5.47" height="22.54" fill="#213739" stroke="#081b1d" stroke-width="1"/><rect x="436.47" y="1201.56" width="5.47" height="45.84" fill="#213739" stroke="#081b1d" stroke-width="1"/><rect x="449.4" y="1227.87" width="5.47" height="19.53" fill="#213739" stroke="#081b1d" stroke-width="1"/><rect x="462.34" y="1216.22" width="5.47" height="31.18" fill="#213739" stroke="#081b1d" stroke-width="1"/><rect x="475.27" y="1229.97" width="5.47" height="17.43" fill="#213739" stroke="#081b1d" stroke-width="1"/><rect x="488.2" y="1022.1" width="5.47" height="225.3" fill="#f2450a" stroke="#081b1d" stroke-width="1"/><rect x="488.7" y="1022.6" width="4.47" height="8.29" fill="#000" fill-opacity="0.14"/><rect x="501.13" y="1224.21" width="5.47" height="23.19" fill="#213739" stroke="#081b1d" stroke-width="1"/><rect x="514.06" y="1220.93" width="5.47" height="26.47" fill="#213739" stroke="#081b1d" stroke-width="1"/><rect x="526.99" y="1232.45" width="5.47" height="14.95" fill="#213739" stroke="#081b1d" stroke-width="1"/><rect x="539.92" y="1228.53" width="5.47" height="18.87" fill="#213739" stroke="#081b1d" stroke-width="1"/><rect x="552.85" y="1233.24" width="5.47" height="14.16" fill="#213739" stroke="#081b1d" stroke-width="1"/><rect x="565.78" y="1221.85" width="5.47" height="25.55" fill="#213739" stroke="#081b1d" stroke-width="1"/><rect x="578.72" y="1222.24" width="5.47" height="25.16" fill="#213739" stroke="#081b1d" stroke-width="1"/><rect x="591.65" y="1223.81" width="5.47" height="23.59" fill="#213739" stroke="#081b1d" stroke-width="1"/><rect x="604.58" y="1227.87" width="5.47" height="19.53" fill="#213739" stroke="#081b1d" stroke-width="1"/><rect x="617.51" y="1222.64" width="5.47" height="24.76" fill="#213739" stroke="#081b1d" stroke-width="1"/><rect x="630.44" y="1126.16" width="5.47" height="121.24" fill="#f2450a" stroke="#081b1d" stroke-width="1"/><rect x="630.94" y="1126.66" width="4.47" height="7.9" fill="#000" fill-opacity="0.14"/><rect x="643.37" y="1124.33" width="5.47" height="123.07" fill="#f2450a" stroke="#081b1d" stroke-width="1"/><rect x="643.87" y="1124.83" width="4.47" height="7.77" fill="#000" fill-opacity="0.14"/><rect x="656.3" y="1100.24" width="5.47" height="147.16" fill="#f2450a" stroke="#081b1d" stroke-width="1"/><rect x="656.8" y="1100.74" width="4.47" height="8.16" fill="#000" fill-opacity="0.14"/></g>
<g clip-path="url(#clip140408049774912)" stroke="#000" fill="none"><path d="M90.07,1203.55V1221.09" stroke-width="1.4" stroke="#111"/><path d="M86.13,1203.55H94M86.13,1221.09H94" stroke-width="1.6"/><path d="M103,1204.33V1221.87" stroke-width="1.4" stroke="#111"/><path d="M99.06,1204.33H106.93M99.06,1221.87H106.93" stroke-width="1.6"/><path d="M115.93,1214.15V1232.48" stroke-width="1.4" stroke="#111"/><path d="M112,1214.15H119.86M112,1232.48H119.86" stroke-width="1.6"/><path d="M128.86,1208.65V1227.24" stroke-width="1.4" stroke="#111"/><path d="M124.93,1208.65H132.79M124.93,1227.24H132.79" stroke-width="1.6"/><path d="M141.79,1209.7V1227.5" stroke-width="1.4" stroke="#111"/><path d="M137.86,1209.7H145.72M137.86,1227.5H145.72" stroke-width="1.6"/><path d="M154.72,1182.74V1200.54" stroke-width="1.4" stroke="#111"/><path d="M150.79,1182.74H158.65M150.79,1200.54H158.65" stroke-width="1.6"/><path d="M167.65,1006.02V1023.56" stroke-width="1.4" stroke="#111"/><path d="M163.72,1006.02H171.59M163.72,1023.56H171.59" stroke-width="1.6"/><path d="M180.58,1209.44V1226.98" stroke-width="1.4" stroke="#111"/><path d="M176.65,1209.44H184.52M176.65,1226.98H184.52" stroke-width="1.6"/><path d="M193.51,1205.51V1222.79" stroke-width="1.4" stroke="#111"/><path d="M189.58,1205.51H197.45M189.58,1222.79H197.45" stroke-width="1.6"/><path d="M206.45,1215.98V1233" stroke-width="1.4" stroke="#111"/><path d="M202.51,1215.98H210.38M202.51,1233H210.38" stroke-width="1.6"/><path d="M219.38,1214.15V1231.95" stroke-width="1.4" stroke="#111"/><path d="M215.44,1214.15H223.31M215.44,1231.95H223.31" stroke-width="1.6"/><path d="M232.31,1209.44V1226.98" stroke-width="1.4" stroke="#111"/><path d="M228.38,1209.44H236.24M228.38,1226.98H236.24" stroke-width="1.6"/><path d="M245.24,1211.93V1228.94" stroke-width="1.4" stroke="#111"/><path d="M241.31,1211.93H249.17M241.31,1228.94H249.17" stroke-width="1.6"/><path d="M258.17,1200.15V1217.16" stroke-width="1.4" stroke="#111"/><path d="M254.24,1200.15H262.1M254.24,1217.16H262.1" stroke-width="1.6"/><path d="M271.1,1214.94V1232.48" stroke-width="1.4" stroke="#111"/><path d="M267.17,1214.94H275.03M267.17,1232.48H275.03" stroke-width="1.6"/><path d="M284.03,1038.22V1056.81" stroke-width="1.4" stroke="#111"/><path d="M280.1,1038.22H287.97M280.1,1056.81H287.97" stroke-width="1.6"/><path d="M296.96,1165.72V1183.78" stroke-width="1.4" stroke="#111"/><path d="M293.03,1165.72H300.9M293.03,1183.78H300.9" stroke-width="1.6"/><path d="M309.89,1215.33V1232.08" stroke-width="1.4" stroke="#111"/><path d="M305.96,1215.33H313.83M305.96,1232.08H313.83" stroke-width="1.6"/><path d="M322.83,1214.15V1232.48" stroke-width="1.4" stroke="#111"/><path d="M318.89,1214.15H326.76M318.89,1232.48H326.76" stroke-width="1.6"/><path d="M335.76,1200.15V1217.16" stroke-width="1.4" stroke="#111"/><path d="M331.82,1200.15H339.69M331.82,1217.16H339.69" stroke-width="1.6"/><path d="M348.69,1192.29V1210.62" stroke-width="1.4" stroke="#111"/><path d="M344.75,1192.29H352.62M344.75,1210.62H352.62" stroke-width="1.6"/><path d="M361.62,1204.6V1222.14" stroke-width="1.4" stroke="#111"/><path d="M357.69,1204.6H365.55M357.69,1222.14H365.55" stroke-width="1.6"/><path d="M374.55,1210.36V1228.94" stroke-width="1.4" stroke="#111"/><path d="M370.62,1210.36H378.48M370.62,1228.94H378.48" stroke-width="1.6"/><path d="M387.48,1212.58V1229.6" stroke-width="1.4" stroke="#111"/><path d="M383.55,1212.58H391.41M383.55,1229.6H391.41" stroke-width="1.6"/><path d="M400.41,1222.27V1240.33" stroke-width="1.4" stroke="#111"/><path d="M396.48,1222.27H404.35M396.48,1240.33H404.35" stroke-width="1.6"/><path d="M413.34,1007.85V1025.66" stroke-width="1.4" stroke="#111"/><path d="M409.41,1007.85H417.28M409.41,1025.66H417.28" stroke-width="1.6"/><path d="M426.27,1215.46V1233.26" stroke-width="1.4" stroke="#111"/><path d="M422.34,1215.46H430.21M422.34,1233.26H430.21" stroke-width="1.6"/><path d="M439.21,1192.29V1209.83" stroke-width="1.4" stroke="#111"/><path d="M435.27,1192.29H443.14M435.27,1209.83H443.14" stroke-width="1.6"/><path d="M452.14,1218.21V1236.54" stroke-width="1.4" stroke="#111"/><path d="M448.2,1218.21H456.07M448.2,1236.54H456.07" stroke-width="1.6"/><path d="M465.07,1206.82V1224.62" stroke-width="1.4" stroke="#111"/><path d="M461.13,1206.82H469M461.13,1224.62H469" stroke-width="1.6"/><path d="M478,1220.7V1238.24" stroke-width="1.4" stroke="#111"/><path d="M474.07,1220.7H481.93M474.07,1238.24H481.93" stroke-width="1.6"/><path d="M490.93,1012.3V1030.89" stroke-width="1.4" stroke="#111"/><path d="M487,1012.3H494.86M487,1030.89H494.86" stroke-width="1.6"/><path d="M503.86,1214.94V1232.48" stroke-width="1.4" stroke="#111"/><path d="M499.93,1214.94H507.79M499.93,1232.48H507.79" stroke-width="1.6"/><path d="M516.79,1211.66V1229.2" stroke-width="1.4" stroke="#111"/><path d="M512.86,1211.66H520.73M512.86,1229.2H520.73" stroke-width="1.6"/><path d="M529.72,1223.31V1240.59" stroke-width="1.4" stroke="#111"/><path d="M525.79,1223.31H533.66M525.79,1240.59H533.66" stroke-width="1.6"/><path d="M542.65,1218.47V1237.58" stroke-width="1.4" stroke="#111"/><path d="M538.72,1218.47H546.59M538.72,1237.58H546.59" stroke-width="1.6"/><path d="M555.59,1223.71V1241.77" stroke-width="1.4" stroke="#111"/><path d="M551.65,1223.71H559.52M551.65,1241.77H559.52" stroke-width="1.6"/><path d="M568.52,1212.84V1229.86" stroke-width="1.4" stroke="#111"/><path d="M564.58,1212.84H572.45M564.58,1229.86H572.45" stroke-width="1.6"/><path d="M581.45,1213.5V1229.99" stroke-width="1.4" stroke="#111"/><path d="M577.51,1213.5H585.38M577.51,1229.99H585.38" stroke-width="1.6"/><path d="M594.38,1214.41V1232.22" stroke-width="1.4" stroke="#111"/><path d="M590.45,1214.41H598.31M590.45,1232.22H598.31" stroke-width="1.6"/><path d="M607.31,1218.21V1236.54" stroke-width="1.4" stroke="#111"/><path d="M603.38,1218.21H611.24M603.38,1236.54H611.24" stroke-width="1.6"/><path d="M620.24,1212.84V1231.43" stroke-width="1.4" stroke="#111"/><path d="M616.31,1212.84H624.17M616.31,1231.43H624.17" stroke-width="1.6"/><path d="M633.17,1116.76V1134.56" stroke-width="1.4" stroke="#111"/><path d="M629.24,1116.76H637.11M629.24,1134.56H637.11" stroke-width="1.6"/><path d="M646.1,1115.06V1132.6" stroke-width="1.4" stroke="#111"/><path d="M642.17,1115.06H650.04M642.17,1132.6H650.04" stroke-width="1.6"/><path d="M659.03,1090.58V1108.91" stroke-width="1.4" stroke="#111"/><path d="M655.1,1090.58H662.97M655.1,1108.91H662.97" stroke-width="1.6"/></g>
<g fill="#000" stroke="#000" stroke-width="0.15"><text x="154.72" y="1180.24" text-anchor="middle" font-size="14.6">10</text><text x="167.65" y="1003.39" text-anchor="middle" font-size="14.6">11</text><text x="284.03" y="1036.12" text-anchor="middle" font-size="14.6">20</text><text x="296.96" y="1163.35" text-anchor="middle" font-size="14.6">21</text><text x="413.34" y="1005.35" text-anchor="middle" font-size="14.6">30</text><text x="490.93" y="1010.2" text-anchor="middle" font-size="14.6">36</text><text x="633.17" y="1114.26" text-anchor="middle" font-size="14.6">47</text><text x="646.1" y="1112.43" text-anchor="middle" font-size="14.6">48</text><text x="659.03" y="1088.34" text-anchor="middle" font-size="14.6">49</text></g>
<line x1="83.6" x2="83.6" y1="985.6" y2="1247.4" stroke="#000" stroke-width="1.3"/>
<line x1="83.6" x2="665.5" y1="1247.4" y2="1247.4" stroke="#000" stroke-width="1.3"/>
<path d="M78.6,1247.4H88.1M83.6,1242.16H88.1M83.6,1236.93H88.1M83.6,1231.69H88.1M83.6,1226.46H88.1M78.6,1221.22H88.1M83.6,1215.98H88.1M83.6,1210.75H88.1M83.6,1205.51H88.1M83.6,1200.28H88.1M78.6,1195.04H88.1M83.6,1189.8H88.1M83.6,1184.57H88.1M83.6,1179.33H88.1M83.6,1174.1H88.1M78.6,1168.86H88.1M83.6,1163.62H88.1M83.6,1158.39H88.1M83.6,1153.15H88.1M83.6,1147.92H88.1M78.6,1142.68H88.1M83.6,1137.44H88.1M83.6,1132.21H88.1M83.6,1126.97H88.1M83.6,1121.74H88.1M78.6,1116.5H88.1M83.6,1111.26H88.1M83.6,1106.03H88.1M83.6,1100.79H88.1M83.6,1095.56H88.1M78.6,1090.32H88.1M83.6,1085.08H88.1M83.6,1079.85H88.1M83.6,1074.61H88.1M83.6,1069.38H88.1M78.6,1064.14H88.1M83.6,1058.9H88.1M83.6,1053.67H88.1M83.6,1048.43H88.1M83.6,1043.2H88.1M78.6,1037.96H88.1M83.6,1032.72H88.1M83.6,1027.49H88.1M83.6,1022.25H88.1M83.6,1017.02H88.1M78.6,1011.78H88.1M83.6,1006.54H88.1M83.6,1001.31H88.1M83.6,996.07H88.1M83.6,990.84H88.1M78.6,985.6H88.1M83.6,1242.4V1252.9M96.53,1242.4V1252.9M109.46,1242.4V1252.9M122.39,1242.4V1252.9M135.32,1242.4V1252.9M148.26,1242.4V1252.9M161.19,1242.4V1252.9M174.12,1242.4V1252.9M187.05,1242.4V1252.9M199.98,1242.4V1252.9M212.91,1242.4V1252.9M225.84,1242.4V1252.9M238.77,1242.4V1252.9M251.7,1242.4V1252.9M264.64,1242.4V1252.9M277.57,1242.4V1252.9M290.5,1242.4V1252.9M303.43,1242.4V1252.9M316.36,1242.4V1252.9M329.29,1242.4V1252.9M342.22,1242.4V1252.9M355.15,1242.4V1252.9M368.08,1242.4V1252.9M381.02,1242.4V1252.9M393.95,1242.4V1252.9M406.88,1242.4V1252.9M419.81,1242.4V1252.9M432.74,1242.4V1252.9M445.67,1242.4V1252.9M458.6,1242.4V1252.9M471.53,1242.4V1252.9M484.46,1242.4V1252.9M497.4,1242.4V1252.9M510.33,1242.4V1252.9M523.26,1242.4V1252.9M536.19,1242.4V1252.9M549.12,1242.4V1252.9M562.05,1242.4V1252.9M574.98,1242.4V1252.9M587.91,1242.4V1252.9M600.84,1242.4V1252.9M613.78,1242.4V1252.9M626.71,1242.4V1252.9M639.64,1242.4V1252.9M652.57,1242.4V1252.9M665.5,1242.4V1252.9" stroke="#000" stroke-width="1.3" fill="none"/>
<g font-size="14" fill="#000" stroke="#000" stroke-width="0.2"><text x="68.9" y="1252" text-anchor="end">0</text><text x="68.9" y="1225.82" text-anchor="end">0.2</text><text x="68.9" y="1199.64" text-anchor="end">0.4</text><text x="68.9" y="1173.46" text-anchor="end">0.6</text><text x="68.9" y="1147.28" text-anchor="end">0.8</text><text x="68.9" y="1121.1" text-anchor="end">1</text><text x="68.9" y="1094.92" text-anchor="end">1.2</text><text x="68.9" y="1068.74" text-anchor="end">1.4</text><text x="68.9" y="1042.56" text-anchor="end">1.6</text><text x="68.9" y="1016.38" text-anchor="end">1.8</text><text x="68.9" y="990.2" text-anchor="end">2</text></g>
<g font-size="14" fill="#000" stroke="#000" stroke-width="0.2"><text x="90.07" y="1272.7" text-anchor="middle">5</text><text x="141.79" y="1272.7" text-anchor="middle">9</text><text x="193.51" y="1272.7" text-anchor="middle">13</text><text x="245.24" y="1272.7" text-anchor="middle">17</text><text x="296.96" y="1272.7" text-anchor="middle">21</text><text x="348.69" y="1272.7" text-anchor="middle">25</text><text x="400.41" y="1272.7" text-anchor="middle">29</text><text x="452.14" y="1272.7" text-anchor="middle">33</text><text x="503.86" y="1272.7" text-anchor="middle">37</text><text x="555.59" y="1272.7" text-anchor="middle">41</text><text x="607.31" y="1272.7" text-anchor="middle">45</text><text x="659.03" y="1272.7" text-anchor="middle">49</text></g>
<text x="226" y="1309" font-size="19" stroke="#000" stroke-width="0.3" textLength="281" lengthAdjust="spacingAndGlyphs">Serial number of BP26 Peptides</text>
<text transform="translate(33.3,1194.4) rotate(-90)" x="-0.6" y="0" font-size="18" font-weight="bold" textLength="87.7" lengthAdjust="spacingAndGlyphs">OD&#160;&#160;450 nm</text>
<g font-family="'Liberation Serif', serif" font-weight="bold" font-size="19" fill="#000"><text x="7.2" y="13.2">A</text><text x="8.6" y="459">B</text><text x="6.3" y="938.2">C</text></g>
</svg>
</body></html>
